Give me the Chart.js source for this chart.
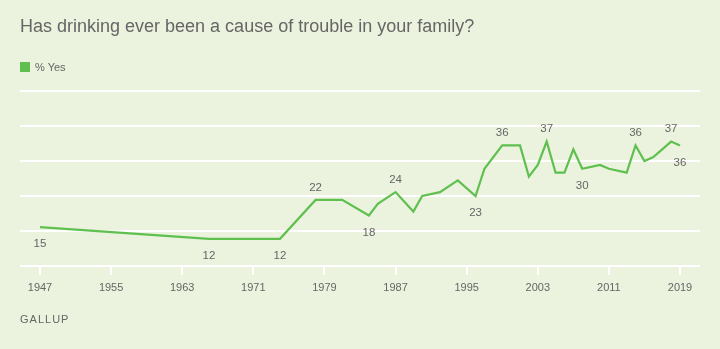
<!DOCTYPE html>
<html>
<head>
<meta charset="utf-8">
<script src="https://cdn.jsdelivr.net/npm/chart.js@4.4.1/dist/chart.umd.min.js"></script>
<style>
  html, body { margin: 0; padding: 0; background: #ebf3de; }
  #wrap { position: relative; width: 720px; height: 349px; font-family: "Liberation Sans", Arial, sans-serif; color: #666; }
  #title { position: absolute; left: 20px; top: 16px; font-size: 18px; white-space: nowrap; }
  #legend { position: absolute; left: 20px; top: 61px; font-size: 11px; line-height: 12px; }
  #legend i { display: inline-block; width: 10px; height: 10px; background: #5fc04f; vertical-align: -1px; margin-right: 5px; }
  #source { position: absolute; left: 20px; top: 313px; font-size: 11px; letter-spacing: 1px; }
  canvas { position: absolute; left: 0; top: 0; }
</style>
</head>
<body>
<div id="wrap">
  <canvas id="chart" width="720" height="349"></canvas>
  <div id="title">Has drinking ever been a cause of trouble in your family?</div>
  <div id="legend"><i></i>% Yes</div>
  <div id="source">GALLUP</div>
</div>
<script>
// ── Data ─────────────────────────────────────────────
const years  = [1947, 1966, 1974, 1978, 1981, 1984, 1985, 1987, 1989, 1990, 1992, 1994, 1996, 1997,
                1999, 2001, 2002, 2003, 2004, 2005, 2006, 2007, 2008, 2010, 2011, 2013, 2014, 2015,
                2016, 2018, 2019];
const pctYes = [15, 12, 12, 22, 22, 18, 21, 24, 19, 23, 24, 27, 23, 30,
                36, 36, 28, 31, 37, 29, 29, 35, 30, 31, 30, 29, 36, 32,
                33, 37, 36];
const yearTicks   = [1947, 1955, 1963, 1971, 1979, 1987, 1995, 2003, 2011, 2019];
const labelsAbove = [1978, 1987, 1999, 2004, 2014, 2018];
const labelsBelow = [1947, 1966, 1974, 1984, 1996, 2008, 2019];

const GREEN = '#5fc04f';
const GREY  = '#666';

// value labels next to selected points
const pointLabels = {
  id: 'pointLabels',
  afterDatasetsDraw(chart) {
    const { ctx } = chart;
    const meta = chart.getDatasetMeta(0);
    ctx.save();
    ctx.font = '11.5px "Liberation Sans", Arial, sans-serif';
    ctx.fillStyle = GREY;
    ctx.textAlign = 'center';
    ctx.textBaseline = 'middle';
    years.forEach((yr, i) => {
      const pt = meta.data[i];
      if (labelsAbove.includes(yr)) ctx.fillText(pctYes[i], pt.x, pt.y - 12.5);
      else if (labelsBelow.includes(yr)) ctx.fillText(pctYes[i], pt.x, pt.y + 17);
    });
    ctx.restore();
  }
};

new Chart(document.getElementById('chart'), {
  type: 'line',
  data: {
    datasets: [{
      data: years.map((x, i) => ({ x, y: pctYes[i] })),
      borderColor: GREEN,
      borderWidth: 2.2,
      pointRadius: 0,
      tension: 0,
      fill: false,
    }]
  },
  options: {
    responsive: false,
    animation: false,
    layout: { padding: { left: 20, right: 20, top: 91, bottom: 0 } },
    plugins: { legend: { display: false }, tooltip: { enabled: false } },
    scales: {
      x: {
        type: 'linear',
        min: 1944.75,
        max: 2021.25,
        afterBuildTicks: s => { s.ticks = yearTicks.map(v => ({ value: v })); },
        afterFit: s => { s.height = 83; },
        ticks: {
          color: GREY,
          font: { family: '"Liberation Sans", Arial, sans-serif', size: 11 },
          padding: 6,
          maxRotation: 0,
          autoSkip: false,
          callback: v => String(v),
        },
        grid: { drawOnChartArea: false, drawTicks: true, tickLength: 9, color: '#fff', lineWidth: 2 },
        border: { display: false },
      },
      y: {
        min: 5,
        max: 50,
        afterFit: s => { s.width = 0; },
        ticks: { stepSize: 9, display: false },
        grid: { color: '#fff', lineWidth: 2, drawTicks: false },
        border: { display: false },
      }
    }
  },
  plugins: [pointLabels]
});
</script>
</body>
</html>
